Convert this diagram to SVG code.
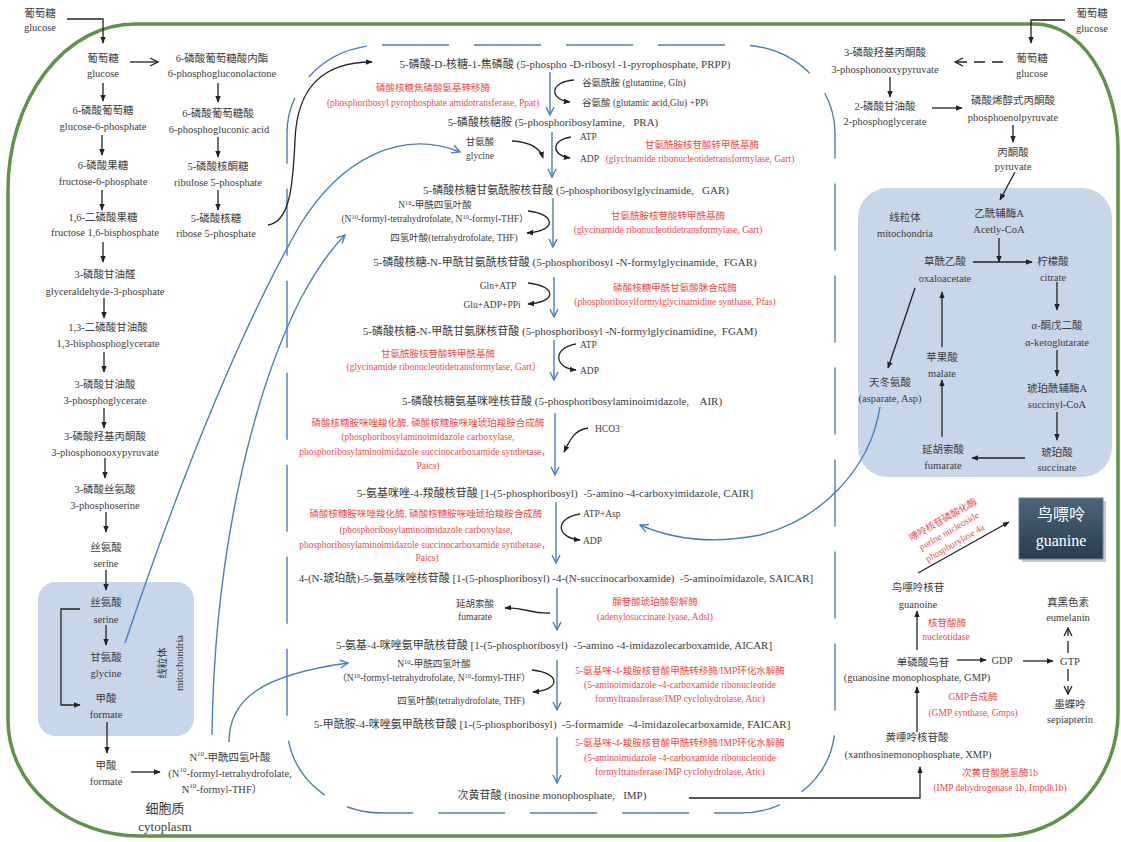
<svg xmlns="http://www.w3.org/2000/svg" width="1121" height="842" viewBox="0 0 1121 842">
<style>
text{font-family:"Liberation Serif","Noto Sans CJK SC",serif;fill:#3c3c3c;dominant-baseline:central;text-anchor:middle;font-size:10.5px}
.m{font-size:11px}
.r{fill:#ef4a4a;font-size:9.5px}
.s{font-size:9.5px}
.st{text-anchor:start}
.big{font-size:13px}
.gw{font-size:16px;fill:#ffffff}
.k{fill:none;stroke:#222;stroke-width:1.3}
.b{fill:none;stroke:#4a7ebf;stroke-width:1.4}
.mito{fill:#c8d6ea}
</style>
<defs>
<marker id="ah" viewBox="0 0 10 10" refX="9" refY="5" markerUnits="userSpaceOnUse" markerWidth="7" markerHeight="7" orient="auto"><path d="M0,1 L10,5 L0,9 z" fill="#222"/></marker>
<marker id="ao" viewBox="0 0 10 10" refX="9" refY="5" markerUnits="userSpaceOnUse" markerWidth="10" markerHeight="10" orient="auto"><path d="M1,1 L9,5 L1,9" fill="none" stroke="#222" stroke-width="1.3"/></marker>
<marker id="bo" viewBox="0 0 10 10" refX="9" refY="5" markerUnits="userSpaceOnUse" markerWidth="10" markerHeight="10" orient="auto"><path d="M1,1 L9,5 L1,9" fill="none" stroke="#4a7ebf" stroke-width="1.4"/></marker>
<linearGradient id="gg" x1="0" y1="0" x2="0" y2="1"><stop offset="0" stop-color="#4d6479"/><stop offset="1" stop-color="#2b3c4e"/></linearGradient>
</defs>

<g id="cell">
<path d="M135,24 H1035 A83,126 0 0 1 1118,150 V713 A118,123 0 0 1 1000,836 H140 A132,116 0 0 1 8,720 V190 A127,166 0 0 1 135,24 Z" fill="none" stroke="#62914a" stroke-width="3.5"/>
</g>
<g id="nucleus-border">
<rect x="287" y="45" width="548" height="768" rx="95" ry="88" fill="none" stroke="#4a7ebf" stroke-width="1.4" stroke-dasharray="67 25"/>
</g>
<g id="mito-left"><rect class="mito" x="38" y="582" width="156" height="154" rx="18"/>
<text transform="translate(162,663) rotate(-90)">线粒体</text>
<text transform="translate(179,663) rotate(-90)">mitochondria</text></g>
<g id="mito-right"><rect class="mito" x="858" y="188" width="254" height="289" rx="30"/>
<text x="905" y="217">线粒体</text><text x="905" y="233">mitochondria</text></g>

<g id="connectors">
<path class="k" d="M67,19 H103 V43" marker-end="url(#ah)"/>
<path class="k" d="M103,83 V101" marker-end="url(#ah)"/>
<path class="k" d="M102,135 V155" marker-end="url(#ah)"/>
<path class="k" d="M102,190 V210" marker-end="url(#ah)"/>
<path class="k" d="M103,242 V262" marker-end="url(#ah)"/>
<path class="k" d="M104,298 V318" marker-end="url(#ah)"/>
<path class="k" d="M104,352 V372" marker-end="url(#ah)"/>
<path class="k" d="M104,408 V428" marker-end="url(#ah)"/>
<path class="k" d="M105,458 V478" marker-end="url(#ah)"/>
<path class="k" d="M106,512 V532" marker-end="url(#ah)"/>
<path class="k" d="M106,570 V590" marker-end="url(#ah)"/>
<path class="k" d="M106,625 V645" marker-end="url(#ah)"/>
<path class="k" d="M80,609 H61 V705 H80" marker-end="url(#ah)"/>
<path class="k" d="M107,722 V753" marker-end="url(#ah)"/>
<path class="k" d="M131,772 H160" marker-end="url(#ah)"/>
<path class="k" d="M130,62 H158" marker-end="url(#ao)"/>
<path class="k" d="M218,83 V102" marker-end="url(#ah)"/>
<path class="k" d="M218,137 V157" marker-end="url(#ah)"/>
<path class="k" d="M218,190 V210" marker-end="url(#ah)"/>
<path class="k" d="M268,225 C290,222 293,185 295,140 C297,90 320,62 372,62" marker-end="url(#ah)"/>
<path class="b" d="M550,72 V115" marker-end="url(#bo)"/>
<path class="b" d="M552,132 V177" marker-end="url(#bo)"/>
<path class="b" d="M553,198 V247" marker-end="url(#bo)"/>
<path class="b" d="M554,277 V317" marker-end="url(#bo)"/>
<path class="b" d="M554,340 V380" marker-end="url(#bo)"/>
<path class="b" d="M555,413 V475" marker-end="url(#bo)"/>
<path class="b" d="M556,502 V563" marker-end="url(#bo)"/>
<path class="b" d="M557,588 V630" marker-end="url(#bo)"/>
<path class="b" d="M557,660 V710" marker-end="url(#bo)"/>
<path class="b" d="M557,737 V783" marker-end="url(#bo)"/>
<path class="k" d="M574,80 C548,82 550,100 570,102" marker-end="url(#ah)"/>
<path class="k" d="M512,141 C530,142 540,148 543,158" marker-end="url(#ah)"/>
<path class="k" d="M571,137 C550,140 552,156 570,158" marker-end="url(#ah)"/>
<path class="k" d="M528,211 C556,214 557,231 527,233" marker-end="url(#ah)"/>
<path class="k" d="M528,283 C557,286 557,302 528,304" marker-end="url(#ah)"/>
<path class="k" d="M576,344 C552,348 554,368 576,370" marker-end="url(#ah)"/>
<path class="k" d="M588,428 C574,430 570,440 564,452" marker-end="url(#ah)"/>
<path class="k" d="M580,514 C554,518 556,538 580,540" marker-end="url(#ah)"/>
<path class="k" d="M550,613 C530,614 525,607 505,608" marker-end="url(#ah)"/>
<path class="k" d="M532,670 C561,673 561,690 533,692" marker-end="url(#ah)"/>
<path class="b" d="M125,643 C180,480 240,330 300,225 C340,160 400,128 460,152" marker-end="url(#bo)"/>
<path class="b" d="M212,735 C214,560 250,400 300,300 C315,272 328,252 345,235" marker-end="url(#bo)"/>
<path class="b" d="M229,742 C229,700 260,675 348,663" marker-end="url(#bo)"/>
<path class="b" d="M880,407 C870,470 820,520 760,535 C710,545 670,538 640,525" marker-end="url(#bo)"/>
<path class="k" d="M1065,20 H1031 V43" marker-end="url(#ah)"/>
<path class="k" d="M1003,62 H955" stroke-dasharray="11 7" marker-end="url(#ao)"/>
<path class="k" d="M890,77 V97" marker-end="url(#ah)"/>
<path class="k" d="M932,108 H962" marker-end="url(#ah)"/>
<path class="k" d="M1013,125 V142" marker-end="url(#ah)"/>
<path class="k" d="M1015,172 L1000,200" marker-end="url(#ah)"/>
<path class="k" d="M999,238 V262" marker-end="url(#ah)"/>
<path class="k" d="M973,262 H1032" marker-end="url(#ah)"/>
<path class="k" d="M1057,282 V310" marker-end="url(#ah)"/>
<path class="k" d="M1057,350 V376" marker-end="url(#ah)"/>
<path class="k" d="M1057,412 V440" marker-end="url(#ah)"/>
<path class="k" d="M1025,458 H972" marker-end="url(#ah)"/>
<path class="k" d="M942,437 V380" marker-end="url(#ah)"/>
<path class="k" d="M942,347 V292" marker-end="url(#ah)"/>
<path class="k" d="M915,288 L888,368" marker-end="url(#ah)"/>
<path class="k" d="M918,573 L1009,522" marker-end="url(#ah)"/>
<path class="k" d="M917,650 V611" marker-end="url(#ah)"/>
<path class="k" d="M957,660 H986" marker-end="url(#ah)"/>
<path class="k" d="M1023,661 H1053" marker-end="url(#ah)"/>
<path class="k" d="M1068,653 V628" stroke-dasharray="12 5" marker-end="url(#ao)"/>
<path class="k" d="M1068,669 V694" stroke-dasharray="12 5" marker-end="url(#ao)"/>
<path class="k" d="M917,732 V687" marker-end="url(#ah)"/>
<path class="k" d="M689,798 H920 V767" marker-end="url(#ah)"/>
</g>

<g id="glucose-ext-left"><text x="40" y="13">葡萄糖</text><text x="40" y="27">glucose</text></g>
<g id="glucose-left"><text x="103" y="58">葡萄糖</text><text x="103" y="73">glucose</text></g>
<g id="g6p"><text x="103" y="110">6-磷酸葡萄糖</text><text x="103" y="126">glucose-6-phosphate</text></g>
<g id="f6p"><text x="103" y="165">6-磷酸果糖</text><text x="103" y="181">fructose-6-phosphate</text></g>
<g id="f16bp"><text x="103" y="217">1,6-二磷酸果糖</text><text x="105" y="232">fructose 1,6-bisphosphate</text></g>
<g id="g3p"><text x="105" y="274">3-磷酸甘油醛</text><text x="105" y="291">glyceraldehyde-3-phosphate</text></g>
<g id="bpg"><text x="108" y="327">1,3-二磷酸甘油酸</text><text x="108" y="343">1,3-bisphosphoglycerate</text></g>
<g id="pg3"><text x="105" y="384">3-磷酸甘油酸</text><text x="105" y="400">3-phosphoglycerate</text></g>
<g id="php"><text x="105" y="436">3-磷酸羟基丙酮酸</text><text x="105" y="452">3-phosphonooxypyruvate</text></g>
<g id="pser"><text x="105" y="489">3-磷酸丝氨酸</text><text x="105" y="505">3-phosphoserine</text></g>
<g id="serine1"><text x="106" y="547">丝氨酸</text><text x="106" y="563">serine</text></g>
<g id="serine2"><text x="106" y="602">丝氨酸</text><text x="106" y="619">serine</text></g>
<g id="glycine-mito"><text x="106" y="657">甘氨酸</text><text x="106" y="673">glycine</text></g>
<g id="formate-mito"><text x="106" y="698">甲酸</text><text x="106" y="714">formate</text></g>
<g id="formate"><text x="106" y="765">甲酸</text><text x="106" y="781">formate</text></g>
<g id="n10-thf"><text x="230" y="757">N<tspan dy="-3.5" font-size="7">10</tspan><tspan dy="3.5">-甲酰四氢叶酸</tspan></text>
<text x="230" y="773">(N<tspan dy="-3.5" font-size="7">10</tspan><tspan dy="3.5">-formyl-tetrahydrofolate,</tspan></text>
<text x="222" y="789">N<tspan dy="-3.5" font-size="7">10</tspan><tspan dy="3.5">-formyl-THF）</tspan></text></g>
<g id="cytoplasm"><text class="big" x="165" y="808">细胞质</text><text class="big" x="165" y="826">cytoplasm</text></g>

<g id="pgl"><text x="222" y="58">6-磷酸葡萄糖酸内酯</text><text x="222" y="73">6-phosphogluconolactone</text></g>
<g id="pga"><text x="218" y="113">6-磷酸葡萄糖酸</text><text x="219" y="129">6-phosphogluconic acid</text></g>
<g id="ru5p"><text x="218" y="166">5-磷酸核酮糖</text><text x="218" y="182">ribulose 5-phosphate</text></g>
<g id="r5p"><text x="216" y="218">5-磷酸核糖</text><text x="216" y="233">ribose 5-phosphate</text></g>

<g id="prpp"><text class="m" x="565" y="64">5-磷酸-D-核糖-1-焦磷酸 (5-phospho -D-ribosyl -1-pyrophosphate, PRPP)</text>
<text class="r" x="433" y="88">磷酸核糖焦磷酸氨基转移酶</text><text class="r" x="433" y="103">(phosphoribosyl pyrophosphate amidotransferase, Ppat)</text>
<text class="s st" x="582" y="83">谷氨酰胺 (glutamine, Gln)</text><text class="s st" x="582" y="103">谷氨酸 (glutamic acid,Glu) +PPi</text></g>
<g id="pra"><text class="m" x="553" y="122">5-磷酸核糖胺 (5-phosphoribosylamine,&#160;&#160; PRA)</text>
<text class="s" x="480" y="142">甘氨酸</text><text class="s" x="480" y="156">glycine</text>
<text class="s st" x="580" y="137">ATP</text><text class="s st" x="580" y="159">ADP</text>
<text class="r" x="702" y="145">甘氨酰胺核苷酸转甲酰基酶</text><text class="r" x="700" y="159">(glycinamide ribonucleotidetransformylase, Gart)</text></g>
<g id="gar"><text class="m" x="576" y="190">5-磷酸核糖甘氨酰胺核苷酸 (5-phosphoribosylglycinamide,&#160;&#160; GAR)</text>
<text class="s" x="435" y="205">N<tspan dy="-3" font-size="6.5">10</tspan><tspan dy="3">-甲酰四氢叶酸</tspan></text>
<text class="s" x="435" y="219">(N<tspan dy="-3" font-size="6.5">10</tspan><tspan dy="3">-formyl-tetrahydrofolate, N</tspan><tspan dy="-3" font-size="6.5">10</tspan><tspan dy="3">-formyl-THF）</tspan></text>
<text class="s" x="454" y="238">四氢叶酸(tetrahydrofolate, THF)</text>
<text class="r" x="668" y="216">甘氨酰胺核苷酸转甲酰基酶</text><text class="r" x="668" y="230">(glycinamide ribonucleotidetransformylase, Gart)</text></g>
<g id="fgar"><text class="m" x="565" y="262">5-磷酸核糖-N-甲酰甘氨酰核苷酸 (5-phosphoribosyl -N-formylglycinamide,&#160; FGAR)</text>
<text class="s" x="498" y="286">Gln+ATP</text><text class="s" x="492" y="305">Glu+ADP+PPi</text>
<text class="r" x="675" y="288">磷酸核糖甲酰甘氨酸脒合成酶</text><text class="r" x="675" y="302">(phosphoribosylformylglycinamidine synthase, Pfas)</text></g>
<g id="fgam"><text class="m" x="560" y="331">5-磷酸核糖-N-甲酰甘氨脒核苷酸 (5-phosphoribosyl -N-formylglycinamidine,&#160; FGAM)</text>
<text class="s st" x="580" y="345">ATP</text><text class="s st" x="580" y="371">ADP</text>
<text class="r" x="438" y="354">甘氨酰胺核苷酸转甲酰基酶</text><text class="r" x="444" y="367">(glycinamide ribonucleotidetransformylase, Gart）</text></g>
<g id="air"><text class="m" x="562" y="401">5-磷酸核糖氨基咪唑核苷酸 (5-phosphoribosylaminoimidazole,&#160;&#160;&#160; AIR)</text>
<text class="r" x="428" y="423">磷酸核糖胺咪唑羧化酶, 磷酸核糖胺咪唑琥珀羧胺合成酶</text>
<text class="r" x="428" y="437">(phosphoribosylaminoimidazole carboxylase,</text>
<text class="r" x="425" y="452">phosphoribosylaminoimidazole succinocarboxamide synthetase，</text>
<text class="r" x="428" y="466">Paics)</text>
<text class="s st" x="595" y="429">HCO3<tspan dy="-3" font-size="6.5">−</tspan></text></g>
<g id="cair"><text class="m" x="555" y="493">5-氨基咪唑-4-羧酸核苷酸 [1-(5-phosphoribosyl)&#160; -5-amino -4-carboxyimidazole, CAIR]</text>
<text class="s st" x="583" y="514">ATP+Asp</text><text class="s st" x="583" y="541">ADP</text>
<text class="r" x="426" y="514">磷酸核糖胺咪唑羧化酶, 磷酸核糖胺咪唑琥珀羧胺合成酶</text>
<text class="r" x="426" y="530">(phosphoribosylaminoimidazole carboxylase,</text>
<text class="r" x="425" y="545">phosphoribosylaminoimidazole succinocarboxamide synthetase，</text>
<text class="r" x="427" y="558">Paics)</text></g>
<g id="saicar"><text class="m" x="556" y="578">4-(N-琥珀酰)-5-氨基咪唑核苷酸 [1-(5-phosphoribosyl) -4-(N-succinocarboxamide)&#160; -5-aminoimidazole, SAICAR]</text>
<text class="s" x="475" y="604">延胡索酸</text><text class="s" x="475" y="617">fumarate</text>
<text class="r" x="655" y="602">腺苷酸琥珀酸裂解酶</text><text class="r" x="655" y="617">(adenylosuccinate lyase, Adsl)</text></g>
<g id="aicar"><text class="m" x="554" y="645">5-氨基-4-咪唑氨甲酰核苷酸 [1-(5-phosphoribosyl)&#160; -5-amino -4-imidazolecarboxamide, AICAR]</text>
<text class="s" x="434" y="664">N<tspan dy="-3" font-size="6.5">10</tspan><tspan dy="3">-甲酰四氢叶酸</tspan></text>
<text class="s" x="434" y="678">（N<tspan dy="-3" font-size="6.5">10</tspan><tspan dy="3">-formyl-tetrahydrofolate, N</tspan><tspan dy="-3" font-size="6.5">10</tspan><tspan dy="3">-formyl-THF）</tspan></text>
<text class="s" x="461" y="701">四氢叶酸(tetrahydrofolate, THF)</text>
<text class="r" x="680" y="671">5-氨基咪-4-羧胺核苷酸甲酰转移酶/IMP环化水解酶</text>
<text class="r" x="680" y="685">(5-aminoimidazole -4-carboxamide ribonucleotide</text>
<text class="r" x="680" y="699">formyltransferase/IMP cyclohydrolase, Atic)</text></g>
<g id="faicar"><text class="m" x="552" y="724">5-甲酰胺-4-咪唑氨甲酰核苷酸 [1-(5-phosphoribosyl)&#160; -5-formamide&#160; -4-imidazolecarboxamide, FAICAR]</text>
<text class="r" x="680" y="743">5-氨基咪-4-羧胺核苷酸甲酰转移酶/IMP环化水解酶</text>
<text class="r" x="680" y="758">(5-aminoimidazole -4-carboxamide ribonucleotide</text>
<text class="r" x="680" y="772">formyltransferase/IMP cyclohydrolase, Atic)</text></g>
<g id="imp"><text class="m" x="552" y="795">次黄苷酸 (inosine monophosphate,&#160;&#160; IMP)</text></g>

<g id="glucose-ext-right"><text x="1092" y="13">葡萄糖</text><text x="1092" y="28">glucose</text></g>
<g id="glucose-right"><text x="1032" y="58">葡萄糖</text><text x="1032" y="73">glucose</text></g>
<g id="php-right"><text x="885" y="52">3-磷酸羟基丙酮酸</text><text x="885" y="69">3-phosphonooxypyruvate</text></g>
<g id="pg2"><text x="885" y="106">2-磷酸甘油酸</text><text x="885" y="121">2-phosphoglycerate</text></g>
<g id="pep"><text x="1013" y="100">磷酸烯醇式丙酮酸</text><text x="1013" y="117">phosphoenolpyruvate</text></g>
<g id="pyruvate"><text x="1013" y="152">丙酮酸</text><text x="1013" y="166">pyruvate</text></g>
<g id="acetyl-coa"><text x="999" y="213">乙酰辅酶A</text><text x="999" y="229">Acetly-CoA</text></g>
<g id="oxaloacetate"><text x="945" y="261">草酰乙酸</text><text x="945" y="278">oxaloacetate</text></g>
<g id="citrate"><text x="1053" y="261">柠檬酸</text><text x="1053" y="277">citrate</text></g>
<g id="akg"><text x="1057" y="325">α-酮戊二酸</text><text x="1057" y="342">α-ketoglutarate</text></g>
<g id="succinyl-coa"><text x="1057" y="388">琥珀酰辅酶A</text><text x="1057" y="404">succinyl-CoA</text></g>
<g id="succinate"><text x="1057" y="452">琥珀酸</text><text x="1057" y="467">succinate</text></g>
<g id="fumarate-right"><text x="943" y="449">延胡索酸</text><text x="943" y="465">fumarate</text></g>
<g id="malate"><text x="942" y="357">苹果酸</text><text x="942" y="373">malate</text></g>
<g id="asp"><text x="890" y="382">天冬氨酸</text><text x="890" y="398">(asparate, Asp)</text></g>

<g id="guanine">
<rect x="1022" y="501" width="84" height="61" fill="#9aa4ae" opacity="0.6"/>
<rect x="1019" y="498" width="84" height="61" fill="url(#gg)" stroke="#6d8093" stroke-width="1"/>
<text class="gw" x="1061" y="514">鸟嘌呤</text>
<text class="gw" x="1061" y="540">guanine</text></g>
<g id="pnp-label">
<text class="r" transform="translate(943,520) rotate(-30)">嘌呤核苷磷酸化酶</text>
<text class="r" transform="translate(949,531) rotate(-30)">purine nucleoside</text>
<text class="r" transform="translate(955,543) rotate(-30)">phosphorylase 4a</text></g>
<g id="guanosine"><text x="918" y="587">鸟嘌呤核苷</text><text x="918" y="604">guanoine</text>
<text class="r" x="947" y="623">核苷酸酶</text><text class="r" x="946" y="637">nucleotidase</text></g>
<g id="gmp"><text x="923" y="662">单磷酸鸟苷</text><text x="917" y="677">(guanosine monophosphate, GMP)</text></g>
<g id="gdp"><text x="1002" y="660">GDP</text></g>
<g id="gtp"><text x="1070" y="661">GTP</text></g>
<g id="eumelanin"><text x="1068" y="602">真黑色素</text><text x="1068" y="617">eumelanin</text></g>
<g id="sepiapterin"><text x="1070" y="704">墨蝶呤</text><text x="1070" y="719">sepiapterin</text></g>
<g id="gmps-label"><text class="r" x="973" y="697">GMP合成酶</text><text class="r" x="973" y="713">(GMP synthase, Gmps)</text></g>
<g id="xmp"><text x="917" y="737">黄嘌呤核苷酸</text><text x="918" y="754">(xanthosinemonophosphate, XMP)</text></g>
<g id="impdh-label"><text class="r" x="1000" y="773">次黄苷酸脱氢酶1b</text><text class="r" x="1000" y="788">(IMP dehydrogenase 1b, Impdh1b)</text></g>
</svg>
